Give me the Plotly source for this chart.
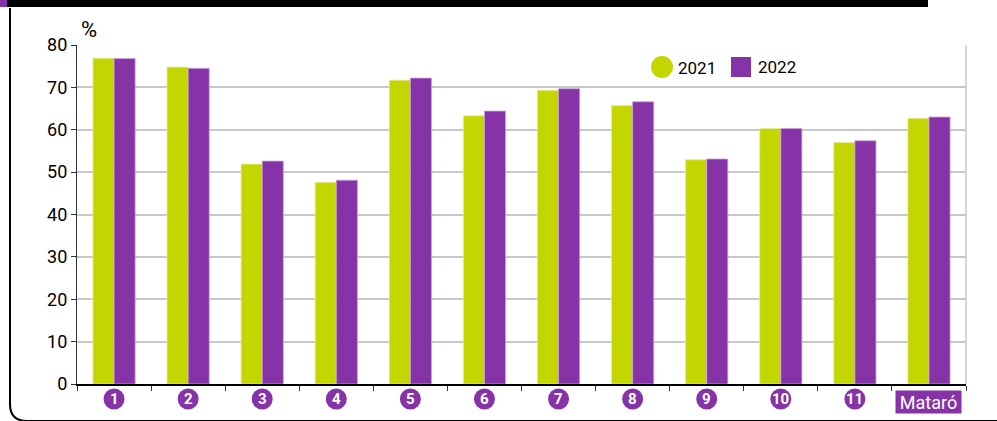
import plotly.graph_objects as go

categories = ["1", "2", "3", "4", "5", "6", "7", "8", "9", "10", "11", "Mataró"]
values_2021 = [76.9, 74.8, 51.9, 47.6, 71.7, 63.3, 69.3, 65.7, 52.9, 60.3, 57.0, 62.7]
values_2022 = [76.8, 74.5, 52.6, 48.1, 72.2, 64.4, 69.7, 66.6, 53.1, 60.3, 57.4, 63.0]
series_names = ["2021", "2022"]
y_ticks = [0, 10, 20, 30, 40, 50, 60, 70, 80]

GREEN = "#c4d600"
PURPLE = "#8533a6"
FONT = "Roboto, sans-serif"

W, H = 997, 421
L, R, T, B = 77, 31, 45, 37
PW, PH = W - L - R, H - T - B
N = len(categories)


def px(x):
    return (x - L) / PW


def py(y):
    return (H - B - y) / PH


def cat_x(i):
    return (i + 0.5) / N


fig = go.Figure()
fig.add_trace(go.Bar(x=list(range(N)), y=values_2021, name=series_names[0],
                     marker=dict(color=GREEN, line=dict(color="#e4ee9a", width=0.8)), showlegend=False))
fig.add_trace(go.Bar(x=list(range(N)), y=values_2022, name=series_names[1],
                     marker=dict(color=PURPLE, line=dict(color="#c9a6d6", width=0.8)), showlegend=False))

shapes = []
annotations = []

# category markers
for i, c in enumerate(categories):
    if c.isdigit():
        shapes.append(dict(type="circle", xref="paper", yref="paper", xsizemode="pixel", ysizemode="pixel",
                           xanchor=cat_x(i), yanchor=0, x0=-10.5, x1=10.5, y0=-25.5, y1=-4.5,
                           fillcolor=PURPLE, line=dict(width=0)))
        annotations.append(dict(x=cat_x(i), y=0, xref="paper", yref="paper", yshift=-15, text="<b>%s</b>" % c,
                                showarrow=False, font=dict(family=FONT, size=15, color="white"),
                                xanchor="center", yanchor="middle"))
    else:
        annotations.append(dict(x=cat_x(i), y=0, xref="paper", yref="paper", yshift=-18, text=c,
                                showarrow=False, font=dict(family=FONT, size=18, color="white"),
                                bgcolor=PURPLE, width=63, height=20, borderpad=1,
                                xanchor="center", yanchor="middle"))

# manual legend
shapes.append(dict(type="circle", xref="paper", yref="paper", x0=px(651), x1=px(673), y0=py(78), y1=py(56),
                   fillcolor=GREEN, line=dict(width=0)))
shapes.append(dict(type="rect", xref="paper", yref="paper", x0=px(731), x1=px(751), y0=py(77), y1=py(57),
                   fillcolor=PURPLE, line=dict(width=0)))
annotations.append(dict(x=px(676), y=py(68), xref="paper", yref="paper", text=series_names[0], showarrow=False,
                        xanchor="left", yanchor="middle", font=dict(family=FONT, size=17, color="black")))
annotations.append(dict(x=px(756), y=py(67), xref="paper", yref="paper", text=series_names[1], showarrow=False,
                        xanchor="left", yanchor="middle", font=dict(family=FONT, size=17, color="black")))

# percent label
annotations.append(dict(x=px(89), y=py(29), xref="paper", yref="paper", text="%", showarrow=False,
                        xanchor="center", yanchor="middle", font=dict(family=FONT, size=22, color="black")))

# right border of plot area
shapes.append(dict(type="line", xref="paper", yref="paper", x0=1, x1=1, y0=0, y1=1,
                   line=dict(color="#c8c8c8", width=1.5)))

# decorative frame
shapes.append(dict(type="rect", xref="paper", yref="paper", x0=px(0), x1=px(928), y0=py(0), y1=py(7),
                   fillcolor="black", line=dict(width=0), layer="above"))
shapes.append(dict(type="rect", xref="paper", yref="paper", x0=px(0), x1=px(7), y0=py(0), y1=py(7),
                   fillcolor=PURPLE, line=dict(width=0), layer="above"))
path = "M %f,%f L %f,%f Q %f,%f %f,%f L %f,%f" % (
    px(10), py(8), px(10), py(404), px(10), py(421), px(27), py(421), px(997), py(421))
shapes.append(dict(type="path", xref="paper", yref="paper", path=path, line=dict(color="black", width=2)))

fig.update_layout(
    width=W, height=H,
    margin=dict(l=L, r=R, t=T, b=B),
    paper_bgcolor="white", plot_bgcolor="white",
    barmode="group", bargap=0.43, bargroupgap=0,
    font=dict(family=FONT, color="black"),
    shapes=shapes, annotations=annotations,
    showlegend=False,
    xaxis=dict(range=[-0.5, N - 0.5], tickmode="array",
               tickvals=[i + 0.5 for i in range(-1, N)], ticktext=[""] * (N + 1),
               ticks="outside", ticklen=5, tickcolor="#333333", tickwidth=1.2,
               showline=True, linecolor="black", linewidth=1.5, showgrid=False, zeroline=False),
    yaxis=dict(range=[0, 80], tickvals=y_ticks, ticks="outside", ticklen=5, tickcolor="#333333",
               tickwidth=1.2, showline=True, linecolor="#333333", linewidth=1.2,
               showgrid=True, gridcolor="#c8c8c8", gridwidth=1.5, zeroline=False,
               tickfont=dict(family=FONT, size=18, color="black")),
)

fig.write_html("out.html", config={"displayModeBar": False},
               post_script="document.body.style.margin='0';document.body.style.overflow='hidden';")
